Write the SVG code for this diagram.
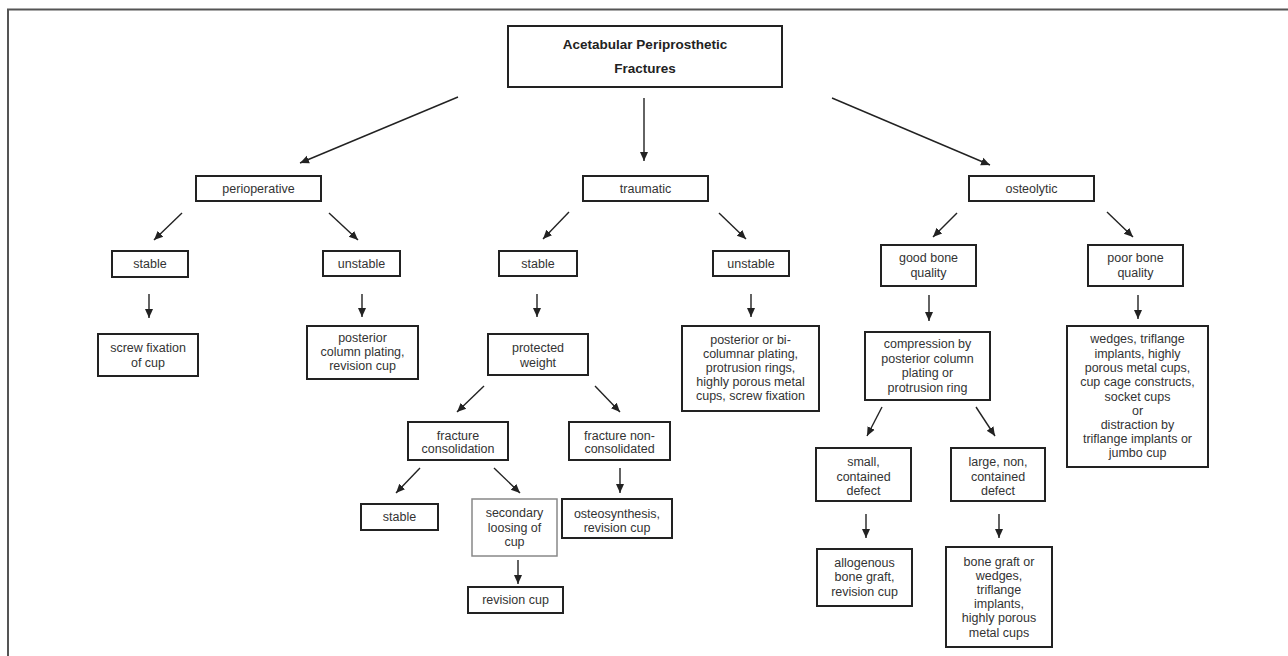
<svg xmlns="http://www.w3.org/2000/svg" width="1288" height="656" viewBox="0 0 1288 656">
<defs>
<marker id="ah" markerUnits="userSpaceOnUse" markerWidth="10" markerHeight="10" viewBox="0 0 10 10" refX="9" refY="5" orient="auto">
<path d="M0,1 L9,5 L0,9 Z" fill="#222"/>
</marker>
</defs>
<style>
.box{fill:#fff;stroke:#222;stroke-width:2}
.lt{stroke:#888;stroke-width:1.5}
.t{font-family:"Liberation Sans",Arial,sans-serif;font-size:12.5px;fill:#333;text-anchor:middle;dominant-baseline:central}
.b{font-weight:bold;font-size:13.5px;fill:#222}
.c line{stroke:#222;stroke-width:1.4;marker-end:url(#ah)}
</style>
<rect x="0" y="0" width="1288" height="656" fill="#fff"/>
<path d="M8,656 L8,9.5 L1288,9.5" fill="none" stroke="#555" stroke-width="2"/>

<g class="c" id="connectors">
<line x1="458" y1="97" x2="300" y2="163"/>
<line x1="644" y1="98" x2="644" y2="161"/>
<line x1="832" y1="98" x2="990" y2="165"/>
<line x1="182" y1="213" x2="154" y2="240"/>
<line x1="329" y1="213" x2="358" y2="240"/>
<line x1="569" y1="212" x2="543" y2="239"/>
<line x1="719" y1="213" x2="746" y2="239"/>
<line x1="957" y1="213" x2="933" y2="237"/>
<line x1="1107" y1="212" x2="1133" y2="237"/>
<line x1="149" y1="294" x2="149" y2="318"/>
<line x1="362" y1="294" x2="362" y2="317"/>
<line x1="537" y1="294" x2="537" y2="317"/>
<line x1="751" y1="294" x2="751" y2="317"/>
<line x1="929" y1="295" x2="929" y2="321"/>
<line x1="1138" y1="295" x2="1138" y2="319"/>
<line x1="484" y1="386" x2="457" y2="412"/>
<line x1="595" y1="386" x2="620" y2="412"/>
<line x1="882" y1="407" x2="867" y2="436"/>
<line x1="976" y1="407" x2="995" y2="436"/>
<line x1="420" y1="468" x2="396" y2="493"/>
<line x1="494" y1="468" x2="520" y2="493"/>
<line x1="620" y1="468" x2="620" y2="493"/>
<line x1="866" y1="514" x2="866" y2="538"/>
<line x1="999" y1="514" x2="999" y2="538"/>
<line x1="518" y1="560" x2="518" y2="584"/>
</g>

<g id="root"><rect class="box" x="508" y="26" width="274" height="61"/>
<text class="t b" x="645" y="44">Acetabular Periprosthetic</text>
<text class="t b" x="645" y="68">Fractures</text></g>

<g id="perioperative"><rect class="box" x="196" y="176" width="125" height="25"/><text class="t" x="258.5" y="188.5">perioperative</text></g>
<g id="traumatic"><rect class="box" x="583" y="176" width="125" height="25"/><text class="t" x="645.5" y="188.5">traumatic</text></g>
<g id="osteolytic"><rect class="box" x="969" y="176" width="125" height="25"/><text class="t" x="1031.5" y="188.5">osteolytic</text></g>

<g id="periop-stable"><rect class="box" x="112" y="251" width="76" height="26"/><text class="t" x="150" y="264">stable</text></g>
<g id="periop-unstable"><rect class="box" x="323" y="251" width="77" height="25"/><text class="t" x="361.5" y="263.5">unstable</text></g>
<g id="trauma-stable"><rect class="box" x="499" y="251" width="78" height="25"/><text class="t" x="538" y="263.5">stable</text></g>
<g id="trauma-unstable"><rect class="box" x="713" y="251" width="76" height="25"/><text class="t" x="751" y="263.5">unstable</text></g>
<g id="good-bone"><rect class="box" x="881" y="245" width="95" height="41"/><text class="t" x="928.5" y="258">good bone</text><text class="t" x="928.5" y="273">quality</text></g>
<g id="poor-bone"><rect class="box" x="1088" y="245" width="95" height="41"/><text class="t" x="1135.5" y="258">poor bone</text><text class="t" x="1135.5" y="273">quality</text></g>

<g id="screw-fixation"><rect class="box" x="98" y="334" width="100" height="42"/><text class="t" x="148" y="348">screw fixation</text><text class="t" x="148" y="363">of cup</text></g>
<g id="posterior-column"><rect class="box" x="307" y="326" width="111" height="53"/><text class="t" x="362.5" y="338">posterior</text><text class="t" x="362.5" y="352">column plating,</text><text class="t" x="362.5" y="366">revision cup</text></g>
<g id="protected-weight"><rect class="box" x="488" y="334" width="100" height="41"/><text class="t" x="538" y="348">protected</text><text class="t" x="538" y="363">weight</text></g>
<g id="bicolumnar"><rect class="box" x="682" y="326" width="137" height="85"/><text class="t" x="750.5" y="340">posterior or bi-</text><text class="t" x="750.5" y="354">columnar plating,</text><text class="t" x="750.5" y="368">protrusion rings,</text><text class="t" x="750.5" y="382">highly porous metal</text><text class="t" x="750.5" y="396">cups, screw fixation</text></g>
<g id="compression"><rect class="box" x="865" y="332" width="125" height="68"/><text class="t" x="927.5" y="344">compression by</text><text class="t" x="927.5" y="359">posterior column</text><text class="t" x="927.5" y="373">plating or</text><text class="t" x="927.5" y="388">protrusion ring</text></g>
<g id="wedges"><rect class="box" x="1067" y="326" width="141" height="141"/>
<text class="t" x="1137.5" y="339">wedges, triflange</text><text class="t" x="1137.5" y="354">implants, highly</text><text class="t" x="1137.5" y="368">porous metal cups,</text><text class="t" x="1137.5" y="382">cup cage constructs,</text><text class="t" x="1137.5" y="397">socket cups</text><text class="t" x="1137.5" y="411">or</text><text class="t" x="1137.5" y="425">distraction by</text><text class="t" x="1137.5" y="439">triflange implants or</text><text class="t" x="1137.5" y="453">jumbo cup</text></g>

<g id="fracture-consolidation"><rect class="box" x="408" y="422" width="100" height="38"/><text class="t" x="458" y="436">fracture</text><text class="t" x="458" y="449">consolidation</text></g>
<g id="fracture-non"><rect class="box" x="569" y="422" width="101" height="38"/><text class="t" x="619.5" y="436">fracture non-</text><text class="t" x="619.5" y="449">consolidated</text></g>
<g id="small-defect"><rect class="box" x="816" y="448" width="95" height="53"/><text class="t" x="863.5" y="462">small,</text><text class="t" x="863.5" y="477">contained</text><text class="t" x="863.5" y="491">defect</text></g>
<g id="large-defect"><rect class="box" x="951" y="448" width="94" height="53"/><text class="t" x="998" y="462">large, non,</text><text class="t" x="998" y="477">contained</text><text class="t" x="998" y="491">defect</text></g>

<g id="consol-stable"><rect class="box" x="361" y="504" width="77" height="26"/><text class="t" x="399.5" y="517">stable</text></g>
<g id="secondary-loosing"><rect class="box lt" x="472" y="499" width="85" height="57"/><text class="t" x="514.5" y="513">secondary</text><text class="t" x="514.5" y="528">loosing of</text><text class="t" x="514.5" y="542">cup</text></g>
<g id="osteosynthesis"><rect class="box" x="562" y="499" width="110" height="39"/><text class="t" x="617" y="514">osteosynthesis,</text><text class="t" x="617" y="528">revision cup</text></g>
<g id="revision-cup"><rect class="box" x="468" y="587" width="95" height="26"/><text class="t" x="515.5" y="600">revision cup</text></g>
<g id="allogenous"><rect class="box" x="817" y="549" width="95" height="57"/><text class="t" x="864.5" y="563">allogenous</text><text class="t" x="864.5" y="577">bone graft,</text><text class="t" x="864.5" y="592">revision cup</text></g>
<g id="bone-graft"><rect class="box" x="946" y="547" width="106" height="100"/><text class="t" x="999" y="562">bone graft or</text><text class="t" x="999" y="576">wedges,</text><text class="t" x="999" y="590">triflange</text><text class="t" x="999" y="604">implants,</text><text class="t" x="999" y="618">highly porous</text><text class="t" x="999" y="633">metal cups</text></g>
</svg>
